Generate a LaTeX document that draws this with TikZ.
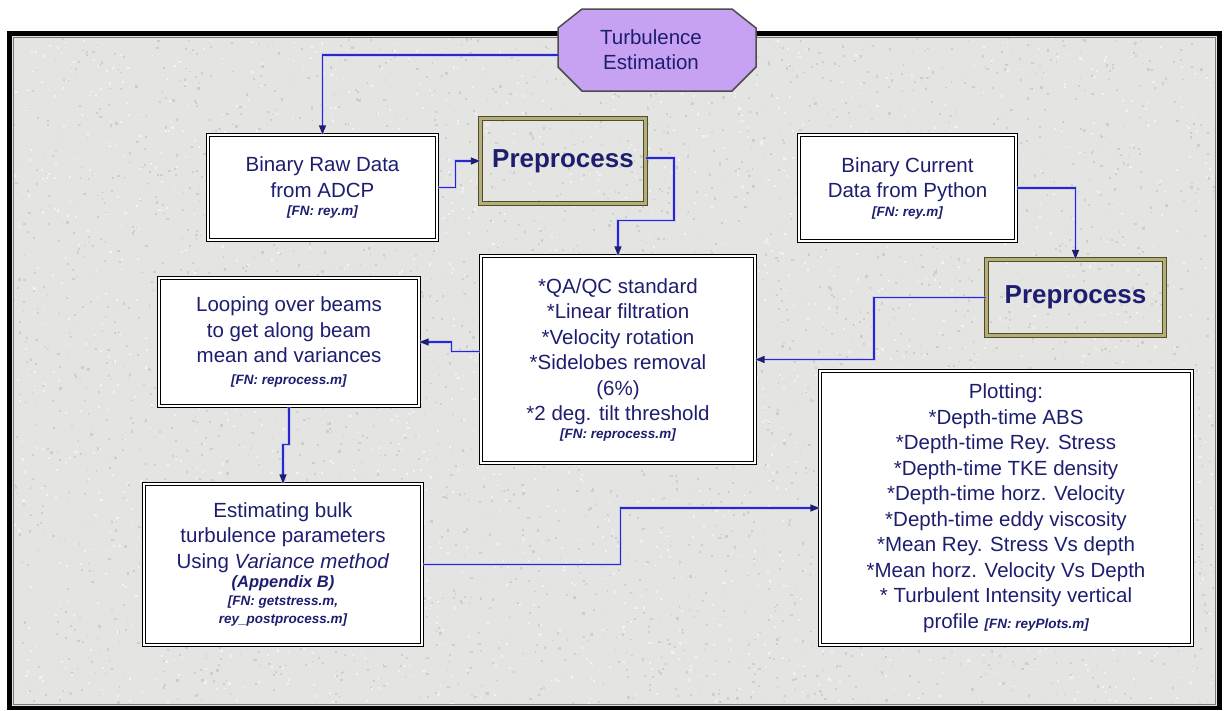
\documentclass[tikz,border=0pt]{standalone}
\usepackage{fontspec}
\setmainfont{Liberation Sans}
\usetikzlibrary{arrows.meta,calc}

\definecolor{ink}{RGB}{30,30,112}
\definecolor{wire}{RGB}{40,40,205}
\definecolor{glow}{RGB}{175,175,255}
\definecolor{lav}{RGB}{200,162,242}
\definecolor{paper}{RGB}{228,228,226}
\definecolor{speck}{RGB}{206,206,203}
\definecolor{shine}{RGB}{242,242,241}
\definecolor{olive}{RGB}{80,77,42}
\definecolor{khaki}{RGB}{182,174,122}
\definecolor{rim}{RGB}{120,120,120}

% small bold-italic file reference
\newcommand\filetag[1]{{\fontsize{13.5}{16}\selectfont\bfseries\itshape #1}}

\begin{document}
\begin{tikzpicture}[x=1pt,y=-1pt,
  every node/.style={text=ink},
  box/.style={draw=black, line width=1.2pt, double=white, double distance=2pt,
              fill=white, align=center, inner sep=0pt,
              font=\fontsize{20.5}{25.5}\selectfont},
  prebox/.style={draw=olive, line width=1.2pt, double=khaki, double distance=2.4pt,
                 inner sep=0pt, font=\fontsize{26}{30}\selectfont\bfseries},
  link/.style={draw=wire, line width=1.3pt,
               preaction={draw=glow, line width=3.5pt, opacity=0.45, -},
               -{Triangle[length=9pt,width=7pt,fill=ink,color=ink]}}
]
\useasboundingbox (0,0) rectangle (1226,710);
\fill[white] (0,0) rectangle (1226,710);

% granite panel
\fill[paper] (12,36) rectangle (1217,706);
\pgfmathsetseed{7}
\foreach \k in {1,...,3500}{
  \pgfmathsetmacro\px{13+1200*rnd}
  \pgfmathsetmacro\py{37+665*rnd}
  \pgfmathsetmacro\pr{1+1.6*rnd}
  \fill[speck] (\px,\py) rectangle ++(\pr,\pr);
}
\foreach \k in {1,...,2500}{
  \pgfmathsetmacro\px{13+1200*rnd}
  \pgfmathsetmacro\py{37+665*rnd}
  \pgfmathsetmacro\pr{1+1.4*rnd}
  \fill[shine] (\px,\py) rectangle ++(\pr,\pr);
}
\draw[rim, line width=1.5pt] (13.5,37.5) rectangle (1215.5,704.5);
\draw[black, line width=4.5pt] (9.5,33.5) rectangle (1219.5,708);

% title octagon
\draw[fill=lav, draw=black!70, line width=1.5pt]
  (558,28) -- (582,9) -- (732,9) -- (756,28) -- (756,67) -- (732,91)
  -- (582,91) -- (558,67) -- cycle;
\node[align=center, inner sep=0pt, minimum width=186pt, minimum height=82pt,
      font=\fontsize{20.5}{25}\selectfont] (top) at (651,50) {Turbulence\\Estimation};

% process boxes
\node[box, minimum width=229pt, minimum height=105pt] (raw) at (322.5,187.5)
  {Binary Raw Data\\from ADCP\\[-7pt]\filetag{[FN: rey.m]}};
\node[prebox, minimum width=165pt, minimum height=85pt] (preL) at (563,161) {Preprocess};
\node[box, minimum width=217pt, minimum height=106pt] (cur) at (907.5,188)
  {Binary Current\\Data from Python\\[-7pt]\filetag{[FN: rey.m]}};
\node[prebox, minimum width=178pt, minimum height=76pt] (preR) at (1075.5,297.5) {Preprocess};
\node[box, minimum width=274pt, minimum height=207pt] (qa) at (618,359.5)
  {*QA/QC standard\\*Linear filtration\\*Velocity rotation\\*Sidelobes removal\\(6\%)\\*2 deg. tilt threshold\\[-8pt]\filetag{[FN: reprocess.m]}};
\node[box, minimum width=260pt, minimum height=128pt] (loop) at (289,342)
  {Looping over beams\\to get along beam\\mean and variances\\[-4pt]\filetag{[FN: reprocess.m]}};
\node[box, minimum width=278pt, minimum height=161pt] (est) at (283,564.5)
  {Estimating bulk\\turbulence parameters\\Using \textit{Variance method}\\[-6pt]{\fontsize{16.5}{19}\selectfont\bfseries\itshape (Appendix B)}\\[-8pt]\filetag{[FN: getstress.m,}\\[-7pt]\filetag{rey\_postprocess.m]}};
\node[box, minimum width=372pt, minimum height=274pt] (plot) at (1006,508)
  {Plotting:\\*Depth-time ABS\\*Depth-time Rey. Stress\\*Depth-time TKE density\\*Depth-time horz. Velocity\\*Depth-time eddy viscosity\\*Mean Rey. Stress Vs depth\\*Mean horz. Velocity Vs Depth\\* Turbulent Intensity vertical\\profile \filetag{[FN: reyPlots.m]}};

% connectors
\draw[link] ([yshift=-5pt]top.west) -| (raw.north);
\draw[link] (raw.east) -- ++(18,0) |- (preL.west);
\draw[link] ([yshift=3pt]preL.east) -- ++(28,0) |- ($(qa.north)+(0,-35)$) -- (qa.north);
\draw[link] (cur.east) -| (preR.north);
\draw[link] (preR.west) -- ++(-112,0) |- (qa.east);
\draw[link] ([yshift=8pt]qa.west) -- ++(-29,0) |- (loop.east);
\draw[link] (loop.south) -- ++(0,38) -| (est.north);
\draw[link] (est.east) -- ++(198,0) |- (plot.west);
\end{tikzpicture}
\end{document}
